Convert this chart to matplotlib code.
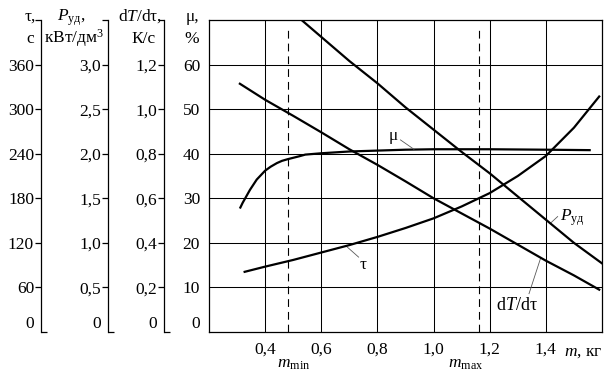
import matplotlib
matplotlib.use("Agg")
import matplotlib.pyplot as plt

plt.rcParams['font.family'] = ['Liberation Serif', 'DejaVu Serif']
plt.rcParams['mathtext.fontset'] = 'custom'
plt.rcParams['mathtext.rm'] = 'Liberation Serif'
plt.rcParams['mathtext.it'] = 'Liberation Serif:italic'
plt.rcParams['font.size'] = 12.5

# --- data ---
# mu, %
mu_m = [0.31, 0.32, 0.329, 0.346, 0.37, 0.40, 0.42, 0.442, 0.46, 0.482, 0.52, 0.543, 0.60, 0.70, 0.80, 0.90, 1.00, 1.20, 1.40, 1.56]
mu_val = [27.7, 29.0, 30.0, 31.9, 34.2, 36.2, 37.1, 37.9, 38.4, 38.8, 39.4, 39.8, 40.1, 40.5, 40.7, 40.9, 41.0, 41.0, 40.9, 40.8]

# tau, s
tau_m = [0.327, 0.40, 0.50, 0.60, 0.70, 0.80, 0.90, 1.00, 1.10, 1.20, 1.30, 1.40, 1.50, 1.59]
tau_val = [81, 88, 97, 107, 117, 128, 140, 153, 169, 187, 210, 237, 275, 317]

# P_ud, kW/dm3
p_m = [0.50, 0.60, 0.70, 0.80, 0.90, 1.00, 1.10, 1.20, 1.30, 1.40, 1.50, 1.60]
p_val = [3.58, 3.31, 3.04, 2.79, 2.52, 2.27, 2.02, 1.78, 1.52, 1.26, 1.00, 0.77]

# dT/dtau, K/s
dt_m = [0.31, 0.40, 0.50, 0.60, 0.70, 0.80, 0.90, 1.00, 1.10, 1.20, 1.30, 1.40, 1.50, 1.59]
dt_val = [1.114, 1.042, 0.97, 0.896, 0.82, 0.75, 0.676, 0.60, 0.532, 0.464, 0.392, 0.32, 0.254, 0.19]

m_min = 0.482
m_max = 1.163

x_ticks = [0.4, 0.6, 0.8, 1.0, 1.2, 1.4]
x_labels = ['0,4', '0,6', '0,8', '1,0', '1,2', '1,4']
mu_ticks = [10, 20, 30, 40, 50, 60]
tau_ticks = [60, 120, 180, 240, 300, 360, 420]
tau_labels = ['60', '120', '180', '240', '300', '360', '']
p_ticks = [0.5, 1.0, 1.5, 2.0, 2.5, 3.0, 3.5]
p_labels = ['0,5', '1,0', '1,5', '2,0', '2,5', '3,0', '']
dt_ticks = [0.2, 0.4, 0.6, 0.8, 1.0, 1.2, 1.4]
dt_labels = ['0,2', '0,4', '0,6', '0,8', '1,0', '1,2', '']

W, H, DPI = 612, 385, 100


def fx(x):
    return x / W


def fy(y):
    return 1 - y / H


def pt(px):
    return px * 72 / DPI


fig = plt.figure(figsize=(W / DPI, H / DPI), dpi=DPI)
ax = fig.add_axes([fx(209), fy(332), (602 - 209) / W, (332 - 20) / H])

# main axes (mu)
ax.set_xlim(0.2, 1.6)
ax.set_ylim(0, 70)
ax.set_xticks(x_ticks, labels=x_labels)
ax.set_yticks(mu_ticks, labels=[str(v) for v in mu_ticks])
ax.set_yticks([0], labels=['0'], minor=True)
ax.yaxis.get_minor_ticks()[0].label1.set_verticalalignment('bottom')
ax.tick_params(axis='both', which='both', length=0)
ax.tick_params(axis='y', which='both', pad=pt(9))
ax.tick_params(axis='x', pad=pt(10))
ax.grid(True, which='major', color='black', lw=0.75)
for s in ax.spines.values():
    s.set_linewidth(0.9)

ax.plot(mu_m, mu_val, color='black', lw=1.6, solid_capstyle='butt')

dash_top = 67.7
ax.vlines([m_min, m_max], 0, dash_top, colors='black', lw=0.8, linestyles=(0, (7, 4.5)))


def extra_axis(offset_px, ylim, ticks, labels):
    a = ax.twinx()
    a.set_ylim(*ylim)
    a.yaxis.set_ticks_position('left')
    a.yaxis.set_label_position('left')
    for k in ['top', 'right', 'bottom']:
        a.spines[k].set_visible(False)
    a.spines['left'].set_position(('outward', pt(offset_px)))
    a.spines['left'].set_linewidth(0.9)
    a.set_yticks(ticks, labels=labels)
    a.set_yticks([0], labels=['0'], minor=True)
    a.yaxis.get_minor_ticks()[0].label1.set_verticalalignment('bottom')
    a.tick_params(axis='y', which='major', direction='out', length=pt(6), width=0.9, pad=pt(1))
    a.tick_params(axis='y', which='minor', direction='in', length=pt(6), width=0.9, pad=pt(7))
    return a


ax_tau = extra_axis(209 - 41, (0, 420), tau_ticks, tau_labels)
ax_p = extra_axis(209 - 108, (0, 3.5), p_ticks, p_labels)
ax_dt = extra_axis(209 - 164, (0, 1.4), dt_ticks, dt_labels)

ax_tau.plot(tau_m, tau_val, color='black', lw=1.6)
ax_p.plot(p_m, p_val, color='black', lw=1.6)
ax_dt.plot(dt_m, dt_val, color='black', lw=1.6)

# curve labels with leader lines (in mu units)
lead = dict(color='0.35', lw=0.6)
ax.text(0.857, 44.0, 'μ', ha='center', va='center', zorder=5)
ax.plot([0.882, 0.93], [43.1, 41.0], **lead)
ax.text(0.748, 15.0, 'τ', ha='center', va='center')
ax.plot([0.69, 0.733], [19.2, 16.8], **lead)
ax.text(1.45, 25.6, r'$P_{\mathrm{уд}}$', ha='left', va='center')
ax.plot([1.418, 1.442], [24.5, 25.9], **lead)
ax.text(1.296, 5.9, r'd$T$/dτ', ha='center', va='center', fontsize=13)
ax.plot([1.34, 1.382], [8.6, 16.7], **lead)

# x axis texts
xt = ax.get_xaxis_transform()
ax.text(1.6, -(344 - 332) / 312, r'$m$, кг', ha='right', va='top', transform=xt)
ax.text(0.443, -(368 - 332) / 312, r'$m_{\mathrm{min}}$', ha='left', va='baseline', transform=xt)
ax.text(1.05, -(368 - 332) / 312, r'$m_{\mathrm{max}}$', ha='left', va='baseline', transform=xt)

# axis headers
heads = [
    (30, 30, 'τ,', 'с'),
    (71, 74, r'$P_{\mathrm{уд}}$,', r'кВт/дм$^3$'),
    (140, 144, r'd$T$/dτ,', 'К/с'),
    (192, 192, 'μ,', '%'),
]
for x1, x2, l1, l2 in heads:
    fig.text(fx(x1), fy(21), l1, ha='center', va='baseline')
    fig.text(fx(x2), fy(43), l2, ha='center', va='baseline')

fig.savefig('out.png', dpi=DPI)
